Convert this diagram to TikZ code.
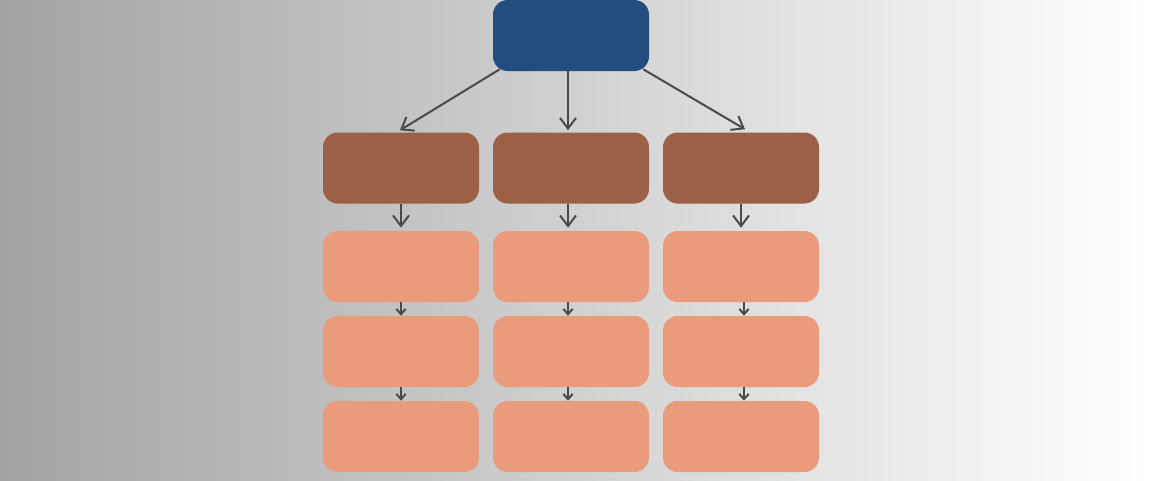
\documentclass[tikz,border=0pt]{standalone}
\usetikzlibrary{arrows.meta,calc}

\definecolor{topblue}{RGB}{35,77,127}
\definecolor{midbrown}{RGB}{156,96,71}
\definecolor{leafsalmon}{RGB}{233,155,123}
\definecolor{linegray}{RGB}{74,74,74}
\definecolor{bgleft}{RGB}{163,163,163}

\begin{document}
\begin{tikzpicture}[x=0.75pt,y=-0.75pt,
  box/.style={rounded corners=11pt,minimum width=117pt,minimum height=53.25pt,inner sep=0pt},
  link/.style={draw=linegray,line width=1.5pt,-{Straight Barb[length=8pt,width=12pt]}},
  shortlink/.style={draw=linegray,line width=1.5pt,-{Straight Barb[length=4pt,width=7pt]}}]

\shade[left color=bgleft,right color=white] (0,0) rectangle (1150,480);

\node[box,fill=topblue] (top) at (571,35.5) {};

\foreach \c/\x/\a/\b in {1/401/0/0,2/571/-3/-3,3/741/0/3}{
	\node[box,fill=midbrown] (mid\c) at (\x,168) {};
	\node[box,fill=leafsalmon] (leafa\c) at (\x,266.5) {};
	\node[box,fill=leafsalmon] (leafb\c) at (\x,351.5) {};
	\node[box,fill=leafsalmon] (leafc\c) at (\x,436.5) {};
	\draw[link,shorten >=2.25pt] ($(mid\c.south)+(\a,0)$)--($(leafa\c.north)+(\a,0)$);
	\draw[shortlink] ($(leafa\c.south)+(\b,0)$)--($(leafb\c.north)+(\b,0)$);
	\draw[shortlink] ($(leafb\c.south)+(\b,0)$)--($(leafc\c.north)+(\b,0)$);
}

\draw[link] ($(top.south west)+(7,-2)$)--($(mid1.north)+(-1,-2)$);
\draw[link] ($(top.south)+(-3,0)$)--($(mid2.north)+(-3,-2)$);
\draw[link] ($(top.south east)+(-6,-2)$)--($(mid3.north)+(4,-3)$);

\end{tikzpicture}
\end{document}
